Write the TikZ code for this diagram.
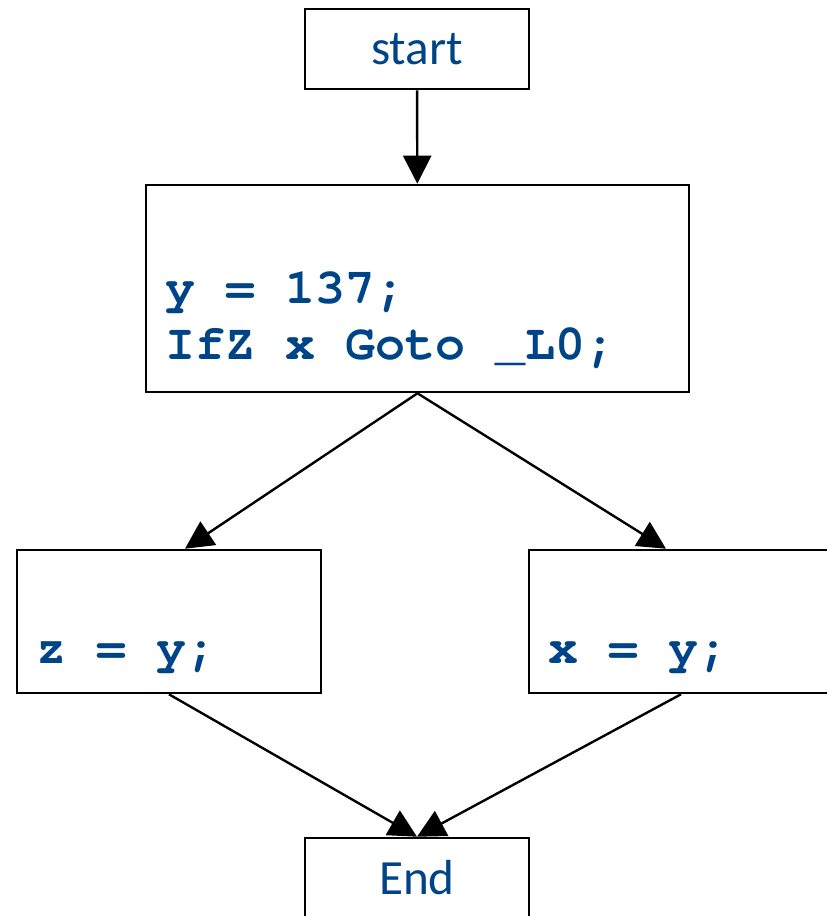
\documentclass[tikz,border=0pt]{standalone}
\usepackage{fontspec}
\setmainfont{Carlito}
\newfontfamily\codefont{texgyrecursor}[Extension=.otf,UprightFont=*-regular,BoldFont=*-bold]
\newcommand\codestyle{\codefont\bfseries\fontsize{35.5}{39.8}\selectfont}
\usetikzlibrary{arrows.meta}
\definecolor{codeblue}{RGB}{0,68,136}
\tikzset{
  blk/.style={draw,line width=1.8pt,inner sep=0pt,text=codeblue},
  codeblk/.style={blk,inner xsep=0.5cm,align=flush left,font=\codestyle},
  flow/.style={line width=1.7pt,-{Triangle[length=0.7cm,width=0.7cm]}}
}
\begin{document}
\begin{tikzpicture}[x=0.025cm,y=-0.025cm]
    \useasboundingbox (0,0) rectangle (827,916);
    \node[blk,minimum width=5.6cm,minimum height=2cm,font=\fontsize{35}{42}\selectfont](start)at(417,49){start};
    \node[codeblk,minimum width=13.575cm,minimum height=5.175cm,text width=12.575cm](cond)at(417.5,288.5){\strut\\y = 137;\\IfZ x Goto \_L0;};
    \node[codeblk,minimum width=7.6cm,minimum height=3.575cm,text width=6.6cm](zasg)at(169,621.5){\strut\\z = y;};
    \node[codeblk,minimum width=7.6cm,minimum height=3.575cm,text width=6.6cm](xasg)at(681,621.5){\strut\\x = y;};
    \node[blk,minimum width=5.6cm,minimum height=2cm,font=\fontsize{35}{42}\selectfont](stop)at(417,878){End};
    \draw[flow](start)--(cond);
    \draw[flow](cond.south)--([xshift=0.4cm]zasg.north);
    \draw[flow](cond.south)--([xshift=-0.375cm]xasg.north);
    \draw[flow](zasg.south)--(stop.north);
    \draw[flow](xasg.south)--(stop.north);
\end{tikzpicture}
\end{document}
